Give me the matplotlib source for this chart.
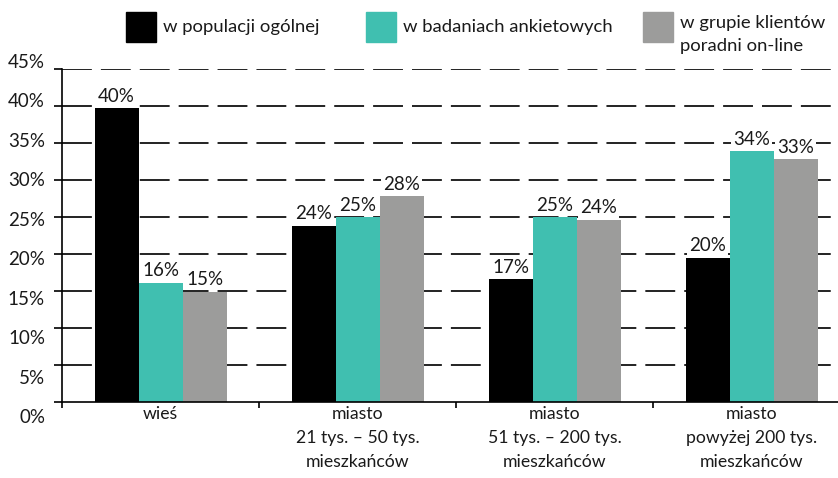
import matplotlib
matplotlib.use("Agg")
import matplotlib.pyplot as plt
import matplotlib.transforms as mtransforms
from matplotlib.patches import Rectangle
import numpy as np

categories = ["wieś", "miasto\n21 tys. – 50 tys.\nmieszkańców",
              "miasto\n51 tys. – 200 tys.\nmieszkańców",
              "miasto\npowyżej 200 tys.\nmieszkańców"]
series_names = ["w populacji ogólnej", "w badaniach ankietowych",
                "w grupie klientów\nporadni on-line"]
populacja = [39.7, 23.8, 16.6, 19.5]
ankiety = [16.1, 25.0, 25.0, 33.9]
klienci = [14.9, 27.8, 24.6, 32.8]
labels_pop = ["40%", "24%", "17%", "20%"]
labels_ank = ["16%", "25%", "25%", "34%"]
labels_kli = ["15%", "28%", "24%", "33%"]
yticks = [0, 5, 10, 15, 20, 25, 30, 35, 40, 45]
ytick_labels = [f"{v}%" for v in yticks]

colors = ["#000000", "#40BFB0", "#9C9C9B"]
FONT = ["Lato", "DejaVu Sans"]
plt.rcParams["font.family"] = FONT
plt.rcParams["lines.scale_dashes"] = False
FS_VAL = 13.5
FS_Y = 13.5
FS_X = 12.7
FS_LEG = 13.3
TXT = "#1a1a1a"

W, H = 838, 478
fig = plt.figure(figsize=(W / 100, H / 100), dpi=100)

def fx(px):
    return px / W

def fy(py):
    return 1 - py / H

ax_left, ax_bottom_px, ax_top_px = 62, 402, 69
ax = fig.add_axes([fx(ax_left), fy(ax_bottom_px), 1 - fx(ax_left),
                   (ax_bottom_px - ax_top_px) / H])
group_px = 197
ax.set_xlim(-0.5, (W - ax_left) / group_px - 0.5)
ax.set_ylim(0, 45)

x = np.arange(len(categories))
bw = 44 / group_px
series = [populacja, ankiety, klienci]
labels = [labels_pop, labels_ank, labels_kli]
for k, (vals, labs) in enumerate(zip(series, labels)):
    xs = x + (k - 1) * bw
    ax.bar(xs, vals, width=bw, color=colors[k], zorder=2, linewidth=0)
    for xi, v, lab in zip(xs, vals, labs):
        ax.annotate(lab, (xi, v), xytext=(0, 2.5), textcoords="offset points",
                    ha="center", va="bottom", fontsize=FS_VAL, color=TXT,
                    zorder=4,
                    bbox=dict(boxstyle="square,pad=0.1", fc="white", ec="none"))

# gridlines
for v in yticks[1:]:
    ax.axhline(v, color="#111111", lw=1.3, dashes=(21.5, 6.5), zorder=1)

for s in ["top", "right"]:
    ax.spines[s].set_visible(False)
ax.spines["left"].set_linewidth(1.2)
ax.spines["bottom"].set_linewidth(1.2)

ax.set_yticks(yticks)
ax.set_yticklabels([])
ax.tick_params(axis="y", direction="out", length=5.5, width=1.2)

# y tick labels (spread slightly wider than the ticks, as in the reference)
trans = mtransforms.offset_copy(ax.get_yaxis_transform(), fig=fig, x=-17, y=0,
                                units="dots")
for v, lab in zip(yticks, ytick_labels):
    ax.text(0, v * 1.069 - 2.16, lab, transform=trans, ha="right", va="center",
            fontsize=FS_Y, color=TXT, clip_on=False)

ax.set_xticks(x)
ax.set_xticklabels(categories, fontsize=FS_X, color=TXT, linespacing=1.62)
ax.tick_params(axis="x", which="major", length=0, pad=3)
ax.set_xticks(np.arange(len(categories)) - 0.5, minor=True)
ax.tick_params(axis="x", which="minor", direction="out", length=4, width=1.2)

# legend
sw = 30
leg_x = [126, 366, 643]
text_x = [163, 403, 680]
for k in range(3):
    fig.patches.append(Rectangle((fx(leg_x[k]), fy(12 + sw)), sw / W, sw / H,
                                 transform=fig.transFigure, color=colors[k]))

fig.text(fx(text_x[0]), fy(27), series_names[0], ha="left", va="center",
         fontsize=FS_LEG, color=TXT)
fig.text(fx(text_x[1]), fy(27), series_names[1], ha="left", va="center",
         fontsize=FS_LEG, color=TXT)
fig.text(fx(text_x[2]), fy(15), series_names[2], ha="left", va="top",
         fontsize=FS_LEG, color=TXT, linespacing=1.55)

fig.savefig("out.png", dpi=100)
